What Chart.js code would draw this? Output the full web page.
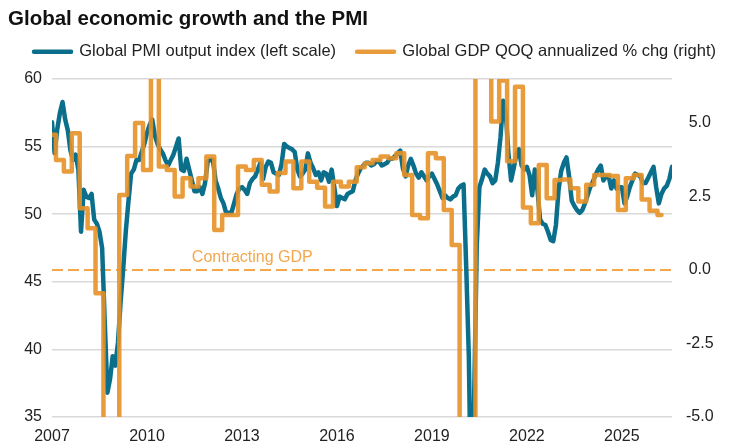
<!DOCTYPE html>
<html><head><meta charset="utf-8">
<script src="https://cdn.jsdelivr.net/npm/chart.js@4.4.1/dist/chart.umd.min.js"></script>
<style>html,body{margin:0;padding:0;background:#fff;}#wrap{width:742px;height:447px;position:relative;}</style>
</head><body><div id="wrap"><canvas id="c"></canvas></div>
<script>
const chartTitle = 'Global economic growth and the PMI';
const seriesNames = ['Global PMI output index (left scale)', 'Global GDP QOQ annualized % chg (right)'];
const xTickMonths = [0, 36, 72, 108, 144, 180, 216];
const xTickLabels = ['2007', '2010', '2013', '2016', '2019', '2022', '2025'];
const leftTicks = [35, 40, 45, 50, 55, 60];
const rightTicks = [-5, -2.5, 0, 2.5, 5];
const contractLabel = 'Contracting GDP';
const contractLevel = 0;
const contractLabelMonth = 53;

// Global PMI output index, monthly from Jan 2007
const pmiMonthly = [
  56.8, 54.5, 56.3, 57.5, 58.3, 57.0, 56.2, 54.7, 54.0, 54.4, 53.3, 48.7,
  51.8, 51.3, 51.2, 51.5, 49.6, 49.3, 48.7, 47.5, 42.0, 36.8, 37.8, 39.5,
  38.8, 40.5, 43.5, 46.0, 48.8, 51.0, 53.0, 53.3, 54.0, 54.0, 54.6, 55.2,
  56.0, 56.6, 57.0, 55.8, 55.2, 54.8, 54.5, 54.0, 53.6, 54.0, 54.4, 55.0,
  55.6, 53.3, 53.2, 54.1, 53.3, 52.5, 51.7, 51.7, 52.0, 51.5, 52.3, 53.9,
  54.0, 54.0, 52.5, 51.9, 51.2, 50.8, 50.1, 50.1, 50.1, 50.8, 51.5, 51.9,
  52.0, 51.8, 51.5, 52.3, 52.6, 52.8, 53.3, 53.8, 52.6, 53.5, 53.9, 53.8,
  53.1, 53.0, 52.9, 53.7, 55.2, 55.0, 54.9, 54.8, 54.6, 53.3, 52.8, 53.0,
  53.3, 54.5, 53.8, 53.4, 52.9, 53.1, 52.5, 53.1, 53.0, 52.4, 53.3, 52.0,
  50.6, 51.3, 51.2, 51.1, 51.5, 51.6, 51.7, 52.5, 53.0, 53.4, 53.6, 53.8,
  53.8, 53.6, 53.7, 53.9, 53.9, 53.6, 53.7, 53.8, 54.1, 54.1, 54.3, 54.5,
  54.7, 53.4, 52.8, 53.6, 54.1, 53.6, 53.0, 52.7, 53.1, 52.8, 52.5, 52.8,
  53.0, 52.6, 52.2, 51.7, 51.2, 51.4, 51.2, 51.1, 51.3, 51.4, 51.9, 52.1,
  52.2, 46.1, 39.4, 26.2, 36.3, 47.7, 52.0, 52.6, 53.3, 53.0, 52.8, 52.3,
  52.5, 53.8, 55.7, 58.4, 57.5, 54.5, 52.5, 53.4, 54.4, 54.8, 53.6, 53.3,
  53.5, 52.9, 51.4, 53.3, 51.8, 49.6, 49.3, 49.2, 48.7, 48.1, 48.0, 49.2,
  51.8, 53.2, 53.8, 54.2, 52.8, 51.0, 50.6, 50.3, 50.1, 50.3, 50.8, 51.4,
  52.0, 52.4, 52.9, 53.3, 53.6, 52.5, 52.8, 52.8, 51.9, 52.5, 51.9, 52.0,
  52.0, 50.8, 51.3, 52.0, 52.5, 53.0, 52.9, 52.8, 52.3, 52.3, 52.7, 53.1,
  53.5, 52.0, 50.8, 51.5, 51.9, 52.1, 52.6, 53.5
];

// Global GDP QOQ annualized % change, quarterly from Q1 2007
const gdpQuarterly = [
  4.6, 3.74, 3.35, 4.65, 2.1, 1.42, -0.79, -6.8, -6.2, 2.55,
  3.88, 5.0, 3.4, 7.5, 3.52, 3.4, 2.5, 3.12, 2.84, 3.12,
  3.86, 1.36, 1.87, 1.87, 3.52, 3.4, 3.74, 2.9, 2.67, 3.3,
  3.69, 2.78, 3.69, 3.0, 2.8, 2.16, 3.0, 2.84, 3.0, 3.5,
  3.63, 3.74, 3.86, 3.8, 3.97, 3.23, 1.87, 1.76, 3.97, 3.8,
  2.04, 0.85, -5.5, -25, 30, 8.5, 5.05, 6.45, 3.7, 6.24,
  2.13, 1.59, 3.57, 2.44, 3.06, 3.08, 2.78, 2.33, 2.9, 3.23,
  3.23, 3.2, 2.04, 3.12, 3.23, 2.4, 2.02, 1.87
];

const FONT = '"Liberation Sans", Arial, sans-serif';
Chart.defaults.font.family = FONT;

const pmiColor = '#0b6f8c';
const gdpColor = 'rgba(231,145,38,0.9)';
const zeroColor = '#f4a74c';
const lastMonth = pmiMonthly.length - 1;

const annotationText = {
  id: 'annotationText',
  afterDatasetsDraw(chart) {
    const {ctx, scales} = chart;
    ctx.save();
    ctx.font = '16px ' + FONT;
    ctx.fillStyle = zeroColor;
    ctx.textAlign = 'left';
    ctx.textBaseline = 'middle';
    ctx.fillText(contractLabel, scales.x.getPixelForValue(contractLabelMonth), scales.y1.getPixelForValue(contractLevel) - 12);
    ctx.restore();
  }
};

new Chart(document.getElementById('c'), {
  type: 'line',
  data: {
    datasets: [
      {
        label: seriesNames[0],
        data: pmiMonthly.map((v, i) => ({x: i, y: v})),
        yAxisID: 'y',
        borderColor: pmiColor, backgroundColor: pmiColor,
        borderWidth: 4.5, pointRadius: 0, borderJoinStyle: 'round', borderCapStyle: 'round',
        order: 1
      },
      {
        label: seriesNames[1],
        data: gdpQuarterly.map((v, k) => ({x: 3 * k, y: v})),
        yAxisID: 'y1', stepped: 'middle',
        borderColor: gdpColor, backgroundColor: gdpColor,
        borderWidth: 4.5, pointRadius: 0, borderJoinStyle: 'round', borderCapStyle: 'round',
        order: 0
      },
      {
        label: contractLabel,
        data: [{x: 0, y: contractLevel}, {x: lastMonth, y: contractLevel}],
        yAxisID: 'y1',
        borderColor: zeroColor, borderWidth: 2, borderDash: [11, 5], pointRadius: 0,
        order: 2
      }
    ]
  },
  options: {
    responsive: true, maintainAspectRatio: false, animation: false,
    layout: {padding: {left: 8, right: 0, top: 0, bottom: 0}},
    plugins: {
      tooltip: {enabled: false},
      title: {
        display: true, text: chartTitle, align: 'start', color: '#111',
        font: {family: FONT, size: 20.5, weight: 'bold'},
        padding: {top: 5, bottom: -9}
      },
      subtitle: {
        display: true, text: '', weight: 500,
        font: {size: 7.5}, padding: 0
      },
      legend: {
        display: true, position: 'top', align: 'center',
        labels: {
          usePointStyle: true, pointStyle: 'line', pointStyleWidth: 37, padding: 21,
          color: '#222', font: {family: FONT, size: 16.5},
          generateLabels(chart) {
            const items = Chart.defaults.plugins.legend.labels.generateLabels(chart);
            return items.filter(it => it.datasetIndex < 2)
              .sort((a, b) => a.datasetIndex - b.datasetIndex)
              .map(it => Object.assign(it, {lineCap: 'round', lineWidth: 4.5}));
          }
        }
      }
    },
    scales: {
      x: {
        type: 'linear', min: 0, max: lastMonth,
        grid: {display: false, drawTicks: false}, border: {display: false},
        afterBuildTicks: s => { s.ticks = xTickMonths.map(v => ({value: v})); },
        ticks: {
          color: '#222', font: {family: FONT, size: 16}, padding: 10, maxRotation: 0, autoSkip: false,
          callback: v => xTickLabels[xTickMonths.indexOf(v)]
        },
        afterFit: s => { s.height = 30; }
      },
      y: {
        position: 'left', min: 35, max: 60,
        afterBuildTicks: s => { s.ticks = leftTicks.map(v => ({value: v})); },
        grid: {color: '#d9d9d9', lineWidth: 1.5, drawTicks: false}, border: {display: false},
        ticks: {color: '#222', font: {family: FONT, size: 16}, padding: 10},
        afterFit: s => { s.width = 44; s.paddingTop = 79; }
      },
      y1: {
        position: 'right', min: -5, max: 6.5,
        afterBuildTicks: s => { s.ticks = rightTicks.map(v => ({value: v})); },
        grid: {display: false, drawTicks: false}, border: {display: false},
        ticks: {color: '#222', font: {family: FONT, size: 16}, padding: 14, crossAlign: 'center',
          callback: v => Number(v).toFixed(1)},
        afterFit: s => { s.width = 70; }
      }
    }
  },
  plugins: [annotationText]
});
</script>
</body></html>
